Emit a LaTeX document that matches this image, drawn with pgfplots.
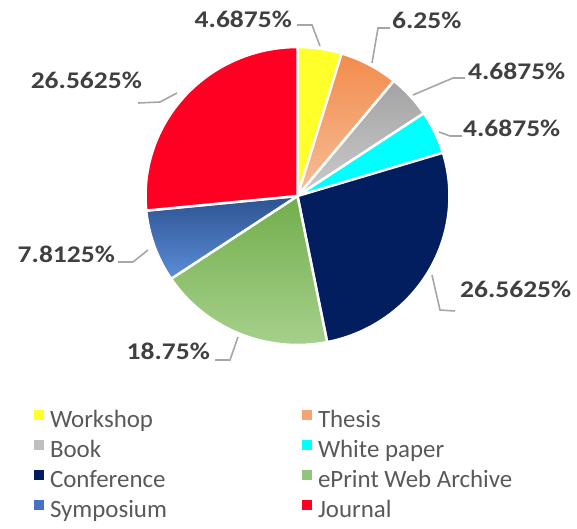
\documentclass[border=0pt]{standalone}
\usepackage{pgfplots}
\usepackage{pgfplotstable}
\pgfplotsset{compat=1.18}
\usepackage{fontspec}
\setmainfont{Carlito}
\newfontfamily\labfont[FakeStretch=1.15]{Carlito}
\newfontfamily\legfont{Carlito}

\definecolor{labgray}{HTML}{404040}
\definecolor{leggray}{HTML}{595959}
\definecolor{leadgray}{HTML}{A6A6A6}
\definecolor{cWork}{HTML}{FFFF2A}
\definecolor{cThesisT}{HTML}{F28C4C}
\definecolor{cThesisB}{HTML}{F6BE98}
\definecolor{cThesis}{HTML}{F4A473}
\definecolor{cBookT}{HTML}{A3A3A3}
\definecolor{cBookB}{HTML}{CBCBCB}
\definecolor{cBook}{HTML}{BFBFBF}
\definecolor{cWhite}{HTML}{00FFFF}
\definecolor{cConf}{HTML}{021E5E}
\definecolor{cEprT}{HTML}{72AE4C}
\definecolor{cEprB}{HTML}{A9D28F}
\definecolor{cEpr}{HTML}{93C47D}
\definecolor{cSymT}{HTML}{2D5290}
\definecolor{cSymB}{HTML}{5B8ED8}
\definecolor{cSym}{HTML}{4472C4}
\definecolor{cJour}{HTML}{FF0022}

\tikzset{
  slice0/.style={fill=cWork},
  slice1/.style={top color=cThesisT,bottom color=cThesisB},
  slice2/.style={top color=cBookT,bottom color=cBookB},
  slice3/.style={fill=cWhite},
  slice4/.style={fill=cConf},
  slice5/.style={top color=cEprT,bottom color=cEprB},
  slice6/.style={top color=cSymT,bottom color=cSymB},
  slice7/.style={fill=cJour},
}

\pgfplotstableread{
name pct
Workshop 4.6875
Thesis 6.25
Book 4.6875
WhitePaper 4.6875
Conference 26.5625
ePrintWebArchive 18.75
Symposium 7.8125
Journal 26.5625
}\piedata

% cumulative angles (clockwise from 12 o'clock)
\gdef\cum{0}
\pgfplotsforeachungrouped \i in {0,...,7}{%
  \pgfplotstablegetelem{\i}{pct}\of\piedata
  \pgfmathsetmacro\s{\cum*3.6}%
  \pgfmathsetmacro\e{(\cum+\pgfplotsretval)*3.6}%
  \expandafter\xdef\csname sa\i\endcsname{\s}%
  \expandafter\xdef\csname ea\i\endcsname{\e}%
  \pgfmathsetmacro\cumnew{\cum+\pgfplotsretval}%
  \xdef\cum{\cumnew}%
}
\def\SA#1{\csname sa#1\endcsname}
\def\EA#1{\csname ea#1\endcsname}

\begin{document}
\begin{tikzpicture}
\useasboundingbox (0,0) rectangle (577bp,529bp);
\begin{axis}[
  x=1bp, y=1bp, xmin=0, xmax=577, ymin=0, ymax=529, y dir=reverse,
  hide axis, clip=false, at={(0,0)}, anchor=south west,
  legend columns=2,
  legend cell align=left,
  legend image code/.code={\fill[#1, draw=none] (0bp,1bp) rectangle (10bp,11bp);},
  legend style={at={(axis cs:34,410)}, anchor=north west, draw=none, fill=none,
    inner sep=0pt, outer sep=0pt, column sep=6bp, row sep=8bp,
    font=\legfont\fontsize{25}{29}\selectfont, text=leggray,
    nodes={inner sep=0pt, text height=17bp, text depth=5bp}},
]
\pgfplotsinvokeforeach{0,...,7}{
  \path[draw=white, line width=2.5bp, slice#1]
    (axis cs:297.5,196) -- ++({152bp*cos(90-\SA{#1})},{149bp*sin(90-\SA{#1})})
    arc[start angle={90-\SA{#1}}, end angle={90-\EA{#1}}, x radius=152bp, y radius=149bp] -- cycle;
}

% leader lines
\begin{scope}[leadgray, line width=1.6bp]
\draw (axis cs:297,25) -- (axis cs:312,25) -- (axis cs:320,46);
\draw (axis cs:390,28) -- (axis cs:378,28) -- (axis cs:372,63);
\draw (axis cs:465,78) -- (axis cs:453,78) -- (axis cs:413,95);
\draw (axis cs:462,136) -- (axis cs:450,136) -- (axis cs:439,132);
\draw (axis cs:432,275) -- (axis cs:440,310) -- (axis cs:455,311);
\draw (axis cs:238,337) -- (axis cs:230,360) -- (axis cs:215,360);
\draw (axis cs:148,250) -- (axis cs:133,262) -- (axis cs:118,262);
\draw (axis cs:177,93) -- (axis cs:160,102) -- (axis cs:138,103);
\end{scope}

% data labels
\begin{scope}[every node/.style={inner sep=0pt, text=labgray, font=\labfont\bfseries\fontsize{24}{28}\selectfont}]
\node[anchor=east] at (axis cs:292,19.5) {4.6875\%};
\node[anchor=west] at (axis cs:392,20.5) {6.25\%};
\node[anchor=west] at (axis cs:468,71.5) {4.6875\%};
\node[anchor=west] at (axis cs:463,128.5) {4.6875\%};
\node[anchor=west] at (axis cs:460,289) {26.5625\%};
\node[anchor=east] at (axis cs:210,351) {18.75\%};
\node[anchor=east] at (axis cs:115,254) {7.8125\%};
\node[anchor=east] at (axis cs:142,80) {26.5625\%};
\end{scope}

\addlegendimage{fill=cWork}
\addlegendentry{\makebox[246bp][l]{Workshop}}
\addlegendimage{fill=cThesis}
\addlegendentry{Thesis}
\addlegendimage{fill=cBook}
\addlegendentry{\makebox[246bp][l]{Book}}
\addlegendimage{fill=cWhite}
\addlegendentry{White paper}
\addlegendimage{fill=cConf}
\addlegendentry{\makebox[246bp][l]{Conference}}
\addlegendimage{fill=cEpr}
\addlegendentry{ePrint Web Archive}
\addlegendimage{fill=cSym}
\addlegendentry{\makebox[246bp][l]{Symposium}}
\addlegendimage{fill=cJour}
\addlegendentry{Journal}
\end{axis}
\end{tikzpicture}
\end{document}
